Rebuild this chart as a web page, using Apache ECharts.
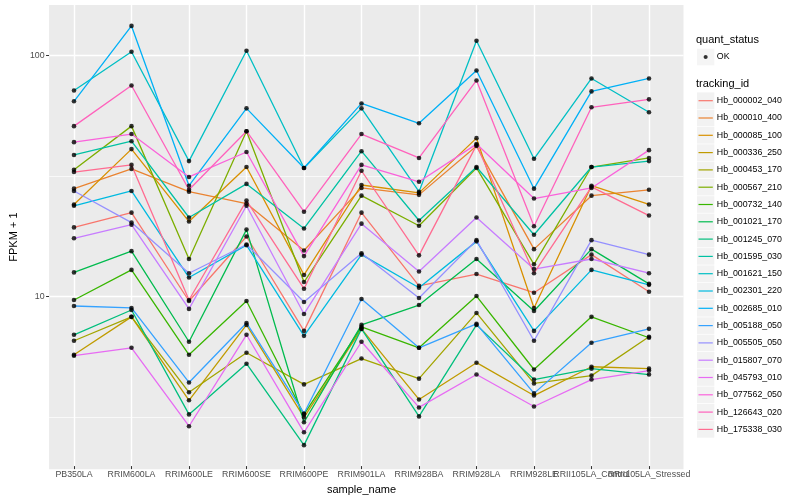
<!DOCTYPE html>
<html><head><meta charset="utf-8">
<script src="https://cdn.jsdelivr.net/npm/echarts@6/dist/echarts.min.js"></script>
<style>html,body{margin:0;padding:0;background:#fff}#c{width:800px;height:500px}</style>
</head><body><div id="c"></div>
<script>
// ---- data ----
const categories = ['PB350LA','RRIM600LA','RRIM600LE','RRIM600SE','RRIM600PE','RRIM901LA','RRIM928BA','RRIM928LA','RRIM928LE','RRII105LA_Control','RRII105LA_Stressed'];
const trackingIds = ['Hb_000002_040','Hb_000010_400','Hb_000085_100','Hb_000336_250','Hb_000453_170','Hb_000567_210','Hb_000732_140','Hb_001021_170','Hb_001245_070','Hb_001595_030','Hb_001621_150','Hb_002301_220','Hb_002685_010','Hb_005188_050','Hb_005505_050','Hb_015807_070','Hb_045793_010','Hb_077562_050','Hb_126643_020','Hb_175338_030'];
const seriesColors = ['#F8766D','#EA8331','#D89000','#C09B00','#A3A500','#7CAE00','#39B600','#00BB4E','#00BF7D','#00C1A3','#00BFC4','#00BAE0','#00B0F6','#35A2FF','#9590FF','#C77CFF','#E76BF3','#FA62DB','#FF62BC','#FF6C91'];

const Hb_000002_040 = [19.1, 22.0, 9.42, 17.5, 7.07, 22.0, 10.9, 12.2, 10.2, 14.7, 10.3];
const Hb_000010_400 = [27.7, 33.5, 26.9, 24.0, 15.3, 27.9, 26.1, 41.7, 15.5, 25.9, 27.4];
const Hb_000085_100 = [23.8, 40.5, 20.2, 34.1, 12.1, 28.7, 26.6, 45.0, 8.81, 28.5, 23.8];
const Hb_000336_250 = [5.62, 8.09, 3.63, 7.49, 3.08, 7.21, 3.66, 5.21, 3.80, 5.01, 4.92];
const Hb_000453_170 = [6.43, 8.09, 3.92, 5.73, 4.23, 5.42, 4.47, 8.40, 4.27, 4.60, 6.68];
const Hb_000567_210 = [33.2, 50.5, 14.1, 48.1, 11.3, 25.9, 19.4, 33.8, 13.4, 34.1, 37.2];
const Hb_000732_140 = [9.51, 12.7, 5.62, 9.42, 3.17, 7.35, 6.01, 9.88, 4.88, 8.09, 6.62];
const Hb_001021_170 = [12.4, 15.2, 6.37, 18.7, 2.94, 7.49, 9.06, 14.1, 8.56, 15.5, 11.1];
const Hb_001245_070 = [6.81, 8.64, 3.17, 5.16, 2.36, 7.21, 3.11, 7.49, 4.43, 4.92, 4.65];
const Hb_001595_030 = [38.3, 43.7, 21.0, 29.0, 18.9, 39.7, 20.4, 34.1, 17.8, 34.1, 36.1];
const Hb_001621_150 = [71.1, 103.2, 36.1, 104.2, 33.8, 59.9, 26.9, 114.6, 36.9, 79.8, 57.7];
const Hb_002301_220 = [23.5, 27.1, 11.8, 16.1, 6.74, 14.7, 10.7, 16.7, 7.07, 12.7, 11.0];
const Hb_002685_010 = [64.1, 132.2, 28.5, 59.9, 33.8, 62.8, 51.9, 86.1, 27.7, 70.5, 79.8];
const Hb_005188_050 = [8.98, 8.81, 4.31, 7.63, 3.20, 9.60, 6.01, 7.56, 3.88, 6.31, 7.21];
const Hb_005505_050 = [27.1, 20.0, 12.3, 16.2, 9.33, 14.9, 9.69, 16.9, 6.43, 16.9, 14.7];
const Hb_015807_070 = [17.2, 19.6, 8.73, 23.5, 8.32, 19.8, 12.5, 21.0, 12.8, 14.1, 12.3];
const Hb_045793_010 = [5.57, 6.01, 2.83, 6.81, 2.67, 6.37, 3.39, 4.65, 3.42, 4.43, 4.83];
const Hb_077562_050 = [43.3, 46.8, 31.0, 39.4, 14.5, 34.8, 29.6, 42.5, 25.2, 27.9, 40.1];
const Hb_126643_020 = [50.5, 74.6, 27.4, 48.1, 22.2, 46.8, 37.2, 78.3, 19.3, 60.5, 65.3];
const Hb_175338_030 = [32.5, 34.8, 9.51, 24.7, 10.6, 32.9, 14.6, 42.1, 12.3, 28.2, 21.4];

const minorBreaks = [3.1623, 31.623];
const yMin = 1.93, yMax = 161.6;

// ---- build ----
const valueLists = [Hb_000002_040,Hb_000010_400,Hb_000085_100,Hb_000336_250,Hb_000453_170,Hb_000567_210,Hb_000732_140,Hb_001021_170,Hb_001245_070,Hb_001595_030,Hb_001621_150,Hb_002301_220,Hb_002685_010,Hb_005188_050,Hb_005505_050,Hb_015807_070,Hb_045793_010,Hb_077562_050,Hb_126643_020,Hb_175338_030];
const FONT = 'Liberation Sans, Arial, Helvetica, sans-serif';
const chart = echarts.init(document.getElementById('c'));

const series = [];
series.push({
  type: 'line', name: '_panel', xAxisIndex: 0, yAxisIndex: 0, data: [], silent: true,
  markLine: {
    silent: true, z: 1, symbol: 'none', label: {show: false}, animation: false,
    lineStyle: {color: '#FFFFFF', width: 0.7, type: 'solid'},
    emphasis: {disabled: true},
    data: minorBreaks.map(v => ({yAxis: v}))
  }
});
trackingIds.forEach((id, k) => {
  series.push({
    type: 'line', name: id, xAxisIndex: 1, yAxisIndex: 1, data: valueLists[k],
    symbol: 'none', showSymbol: false, z: 2, silent: true,
    lineStyle: {color: seriesColors[k], width: 1.3},
    itemStyle: {color: seriesColors[k]},
    emphasis: {disabled: true}
  });
});
const points = [];
valueLists.forEach(vals => vals.forEach((v, i) => points.push([i, v])));
series.push({
  type: 'scatter', name: 'OK', xAxisIndex: 1, yAxisIndex: 1, data: points,
  symbol: 'circle', symbolSize: 4.6, itemStyle: {color: '#000000'}, z: 3, silent: true
});

const KW = 17.3, KH = 16.6, KG = 0.7;
const linePath = 'path://M0,0L0,0M17.3,16.6L17.3,16.6M1.5,7.7L15.8,7.7L15.8,8.9L1.5,8.9Z';
const dotPath = 'path://M0,0L0,0M17.3,16.6L17.3,16.6M10.75,8.3L10.13,9.78L8.65,10.4L7.17,9.78L6.55,8.3L7.17,6.82L8.65,6.2L10.13,6.82Z';
const boxLegend = (names, top) => ({
  data: names, orient: 'vertical', left: 697, top: top, padding: 0, itemGap: KG,
  icon: 'rect', itemWidth: KW, itemHeight: KH, selectedMode: false,
  itemStyle: {color: '#F2F2F2', borderWidth: 0},
  formatter: () => '', textStyle: {fontSize: 8.8}
});
const keyLegend = (names, top, icon) => ({
  data: names, orient: 'vertical', left: 697, top: top, padding: 0, itemGap: KG,
  icon: icon, itemWidth: KW, itemHeight: KH, selectedMode: false,
  itemStyle: {borderWidth: 0},
  textStyle: {fontSize: 8.8, color: '#000000', fontFamily: FONT, padding: [0, 0, 0, -2.5]}
});

chart.setOption({
  animation: false,
  backgroundColor: '#FFFFFF',
  textStyle: {fontFamily: FONT},
  grid: [
    {left: 39.5, top: 5, width: 644, height: 464.2, show: true, backgroundColor: '#EBEBEB', borderWidth: 0},
    {left: 45.25, top: 5, width: 632.5, height: 464.2, show: false}
  ],
  xAxis: [
    {gridIndex: 0, type: 'value', min: 0, max: 1, show: false},
    {gridIndex: 1, type: 'category', data: categories, boundaryGap: true,
     axisLine: {show: false},
     axisTick: {show: true, interval: 0, alignWithLabel: true, length: 3, lineStyle: {color: '#333333', width: 1}},
     axisLabel: {interval: 0, margin: 4, fontSize: 8.8, color: '#4D4D4D', fontFamily: FONT},
     splitLine: {show: true, interval: 0, alignWithLabel: true, lineStyle: {color: '#FFFFFF', width: 1.4}},
     name: 'sample_name', nameLocation: 'middle', nameGap: 12,
     nameTextStyle: {fontSize: 11, color: '#000000', fontFamily: FONT}}
  ],
  yAxis: [
    {gridIndex: 0, type: 'log', logBase: 10, min: yMin, max: yMax,
     axisLine: {show: false},
     axisTick: {show: true, length: 3, lineStyle: {color: '#333333', width: 1}},
     axisLabel: {margin: 4.5, fontSize: 8.8, color: '#4D4D4D', fontFamily: FONT, showMinLabel: false, showMaxLabel: false},
     splitLine: {show: true, showMinLine: false, showMaxLine: false, lineStyle: {color: '#FFFFFF', width: 1.4}},
     name: 'FPKM + 1', nameLocation: 'middle', nameGap: 22, nameRotate: 90,
     nameTextStyle: {fontSize: 11, color: '#000000', fontFamily: FONT}},
    {gridIndex: 1, type: 'log', logBase: 10, min: yMin, max: yMax, show: false}
  ],
  legend: [
    boxLegend(['OK'], 48.7),
    keyLegend(['OK'], 48.7, dotPath),
    boxLegend(trackingIds, 92.4),
    keyLegend(trackingIds, 92.4, linePath)
  ],
  graphic: [
    {type: 'text', left: 696, top: 34.5, silent: true, style: {text: 'quant_status', font: '11px ' + FONT, fill: '#000000'}},
    {type: 'text', left: 696, top: 78.5, silent: true, style: {text: 'tracking_id', font: '11px ' + FONT, fill: '#000000'}}
  ],
  series: series
});
</script></body></html>
